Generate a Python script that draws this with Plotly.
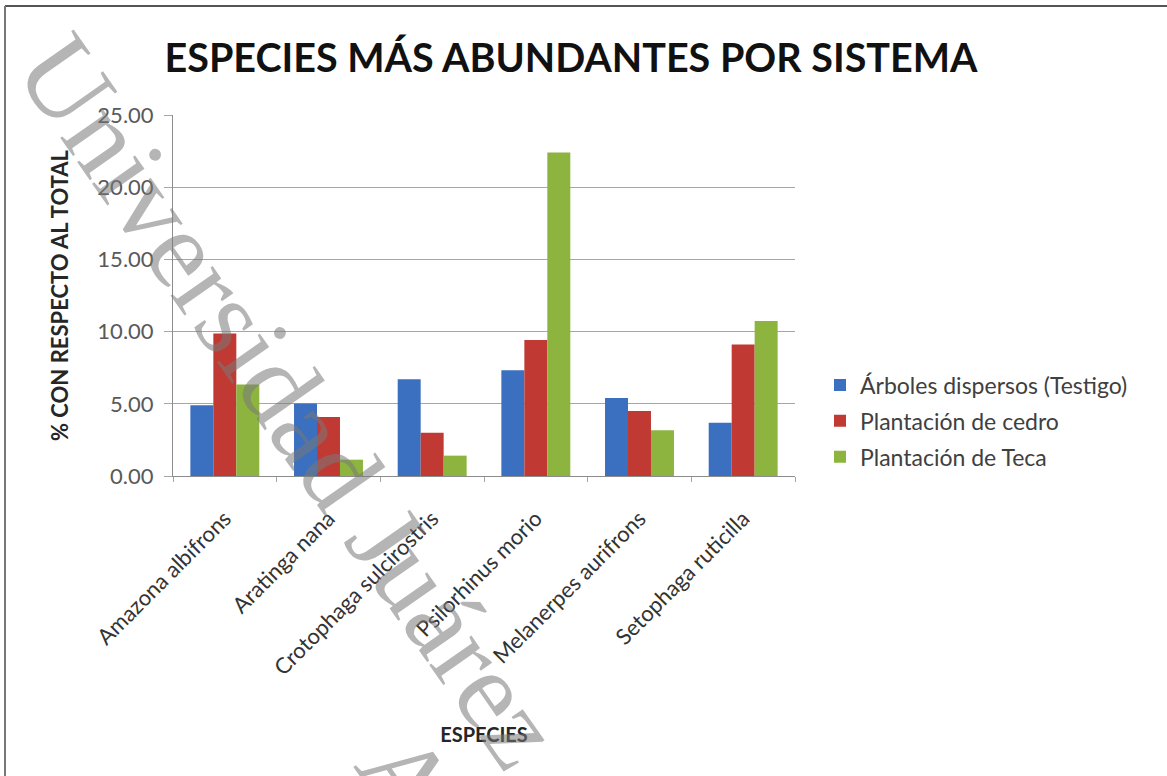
import plotly.graph_objects as go

# ---------------- data ----------------
species = ["Amazona albifrons", "Aratinga nana", "Crotophaga sulcirostris",
           "Psilorhinus morio", "Melanerpes aurifrons", "Setophaga ruticilla"]
arboles_dispersos = [4.90, 5.02, 6.70, 7.33, 5.41, 3.68]
plantacion_cedro = [9.87, 4.09, 3.00, 9.41, 4.51, 9.11]
plantacion_teca = [6.34, 1.13, 1.41, 22.40, 3.17, 10.73]
series_names = ["Árboles dispersos (Testigo)", "Plantación de cedro", "Plantación de Teca"]
y_ticks = [0, 5, 10, 15, 20, 25]

colors = ["#3B6FBF", "#C03A33", "#8CB43E"]

W, H = 1167, 776
L, R, T, B = 173, 372, 115, 300
PW, PH = W - L - R, H - T - B


def px(x):
    return (x - L) / PW


def py(y):
    return (H - B - y) / PH


fig = go.Figure()
for i, (name, vals) in enumerate(zip(series_names,
                                     [arboles_dispersos, plantacion_cedro, plantacion_teca])):
    fig.add_trace(go.Bar(x=species, y=vals, name=name, marker_color=colors[i],
                         marker_line_width=0, legendgroup=f"g{i}"))

fig.update_layout(
    width=W, height=H,
    margin=dict(l=L, r=R, t=T, b=B),
    barmode="group", bargap=0.335, bargroupgap=0,
    plot_bgcolor="white", paper_bgcolor="white",
    font=dict(family="Lato", color="#404040"),
    title=dict(text="<b>ESPECIES MÁS ABUNDANTES POR SISTEMA</b>",
               x=571 / W, xanchor="center", xref="container",
               y=1 - 58 / H, yanchor="middle", yref="container",
               font=dict(family="Lato", size=39.5, color="#111111")),
    legend=dict(x=px(820), xanchor="left", y=py(421), yanchor="middle",
                font=dict(family="Lato", size=23, color="#404040"),
                traceorder="grouped", tracegroupgap=3, bgcolor="rgba(0,0,0,0)"),
    showlegend=True,
)

fig.update_yaxes(range=[0, 25], tickvals=y_ticks, tickformat=".2f",
                 showgrid=True, gridcolor="#A6A6A6", gridwidth=1,
                 showline=True, linecolor="#8C8C8C", linewidth=1,
                 ticks="outside", ticklen=8, tickcolor="#A6A6A6",
                 ticklabelstandoff=6,
                 tickfont=dict(family="Lato", size=22, color="#595959"),
                 title=dict(text="<b>% CON RESPECTO AL TOTAL</b>", standoff=22,
                            font=dict(family="Lato", size=22, color="#262626")),
                 zeroline=False)

fig.update_xaxes(tickangle=-45, showline=True, linecolor="#8C8C8C", linewidth=1,
                 ticks="outside", ticklen=5, tickcolor="#A6A6A6", tickson="boundaries",
                 ticklabelstandoff=20,
                 tickfont=dict(family="Lato", size=22, color="#333333"),
                 title=dict(text="<b>ESPECIES</b>", standoff=48,
                            font=dict(family="Lato", size=20, color="#262626")))

# frame lines (top and left edges of the chart border)
fig.add_shape(type="line", xref="paper", yref="paper",
              x0=px(5), x1=px(W + 5), y0=py(6), y1=py(6),
              line=dict(color="#555555", width=2))
fig.add_shape(type="line", xref="paper", yref="paper",
              x0=px(5), x1=px(5), y0=py(6), y1=py(H + 5),
              line=dict(color="#777777", width=2))

# diagonal watermark
fig.add_annotation(text="Universidad Juárez", xref="paper", yref="paper",
                   x=px(290), y=py(400), xanchor="center", yanchor="middle",
                   showarrow=False, textangle=55,
                   font=dict(family="Liberation Serif", size=112,
                             color="rgba(120,120,120,0.55)"))
fig.add_annotation(text="Autónoma de Tabasco", xref="paper", yref="paper",
                   x=px(670), y=py(1153), xanchor="center", yanchor="middle",
                   showarrow=False, textangle=55,
                   font=dict(family="Liberation Serif", size=112,
                             color="rgba(120,120,120,0.55)"))

fig.write_html("out.html")
